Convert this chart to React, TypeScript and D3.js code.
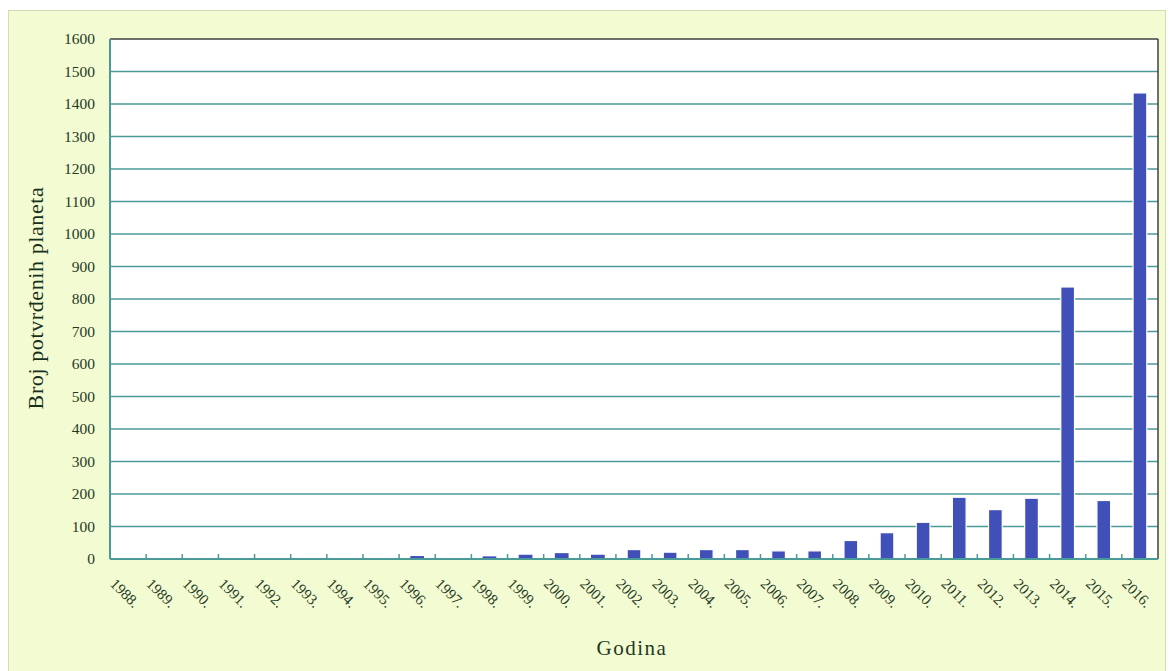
import React from "react";
import * as d3 from "d3";

const years = [
  "1988.", "1989.", "1990.", "1991.", "1992.", "1993.", "1994.", "1995.", "1996.", "1997.",
  "1998.", "1999.", "2000.", "2001.", "2002.", "2003.", "2004.", "2005.", "2006.", "2007.",
  "2008.", "2009.", "2010.", "2011.", "2012.", "2013.", "2014.", "2015.", "2016.",
];
const planets = [
  0, 1, 0, 0, 1, 0, 0, 1, 6, 1,
  5, 10, 18, 10, 29, 21, 29, 29, 25, 25,
  57, 81, 113, 190, 152, 187, 837, 180, 1434,
];
const yTicks = [0, 100, 200, 300, 400, 500, 600, 700, 800, 900, 1000, 1100, 1200, 1300, 1400, 1500, 1600];

const W = 1171;
const H = 671;
const left = 110;
const right = 1158;
const top = 39;
const bottom = 559;

export default function App() {
  const x = d3.scaleBand<string>().domain(years).range([left, right]).paddingInner(0).paddingOuter(0);
  const y = d3.scaleLinear().domain([0, 1600]).range([bottom, top]);
  const bw = x.bandwidth();
  const barW = bw * 0.38;
  const textColor = "#1f3a1f";
  const teal = "#4a9a98";
  return (
    <svg width={W} height={H} style={{ position: "absolute", left: 0, top: 0 }}>
      <rect x={8.5} y={10.5} width={1157} height={680} fill="#f3fbd3" stroke="#cfdcb4" />
      <rect x={left} y={top} width={right - left} height={bottom - top} fill="#ffffff" />
      {yTicks.filter((t) => t > 0 && t < 1600).map((t) => (
        <line key={t} x1={left} x2={right} y1={y(t)} y2={y(t)} stroke={teal} strokeWidth={1.5} />
      ))}
      {years.map((yr, i) => {
        const cx = (x(yr) as number) + bw / 2;
        const v = planets[i];
        const h = bottom - y(v);
        return (
          <rect key={yr} x={cx - barW / 2} y={y(v) - (h < 4 && v > 2 ? 1 : 0)} width={barW} height={h + (h < 4 && v > 2 ? 1 : 0)}
            fill="#4150b8" stroke="#ffffff" strokeWidth={h > 6 ? 1.2 : 0} />
        );
      })}
      <line x1={left} x2={right} y1={top} y2={top} stroke="#404040" strokeWidth={1.5} />
      <line x1={right} x2={right} y1={top} y2={bottom} stroke="#404040" strokeWidth={1.5} />
      <line x1={left} x2={left} y1={top} y2={bottom} stroke={teal} strokeWidth={2} />
      <line x1={left} x2={right} y1={bottom} y2={bottom} stroke={teal} strokeWidth={2} />
      {years.map((yr) => {
        const x0 = x(yr) as number;
        return x0 > left ? (
          <line key={"t" + yr} x1={x0} x2={x0} y1={bottom} y2={bottom - 5} stroke={teal} strokeWidth={1.5} />
        ) : null;
      })}
      {yTicks.map((t) => (
        <text key={"y" + t} x={95} y={y(t)} dy="0.35em" textAnchor="end" fontFamily="Liberation Serif" fontSize={15.5} fill={textColor}>
          {t}
        </text>
      ))}
      {years.map((yr) => {
        const cx = (x(yr) as number) + bw / 2;
        return (
          <text key={"l" + yr} transform={`translate(${cx - 15},${581}) rotate(45)`} dy="0.35em" textAnchor="start"
            fontFamily="Liberation Serif" fontSize={15} fill={textColor}>
            {yr}
          </text>
        );
      })}
      <text transform={`translate(43,${298}) rotate(-90)`} textAnchor="middle"
        fontFamily="Liberation Serif" fontSize={22} letterSpacing={0.6} fill="#16301a">
        Broj potvrđenih planeta
      </text>
      <text x={632} y={655} textAnchor="middle" fontFamily="Liberation Serif" fontSize={21} letterSpacing={1.5} fill={textColor}>
        Godina
      </text>
    </svg>
  );
}
